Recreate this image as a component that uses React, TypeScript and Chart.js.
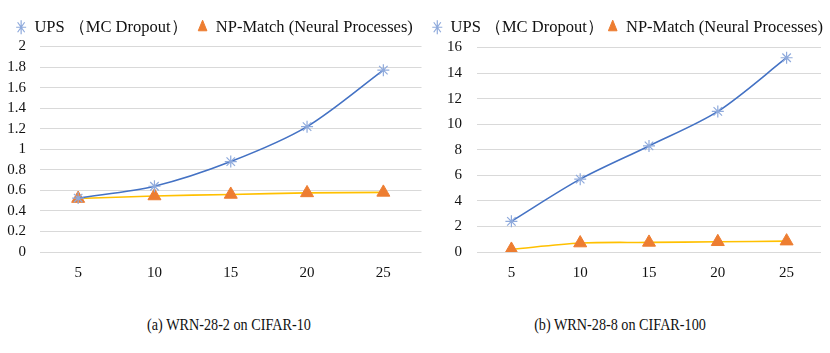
import React, { useEffect, useRef } from "react";
import { Chart, registerables } from "chart.js";

Chart.register(...registerables);

const categories = ["5", "10", "15", "20", "25"];
const upsCifar10 = [0.525, 0.64, 0.88, 1.22, 1.77];
const npCifar10 = [0.52, 0.545, 0.56, 0.575, 0.58];
const upsCifar100 = [2.4, 5.7, 8.3, 11.0, 15.2];
const npCifar100 = [0.2, 0.7, 0.75, 0.8, 0.85];
const seriesNames = ["UPS （MC Dropout）", "NP-Match (Neural Processes)"];
const captions = ["(a) WRN-28-2 on CIFAR-10", "(b) WRN-28-8 on CIFAR-100"];

const FONT = '"Liberation Serif", "Times New Roman", serif';
Chart.defaults.font.family = FONT;

type Cfg = {
  ups: number[];
  np: number[];
  max: number;
  step: number;
  yWidth: number;
  tickPad: number;
  padRight: number;
  padTop: number;
  legendPad: number;
  legendExtra: number;
  legendShift: number;
  align: "start" | "center" | "end";
};

function LineChart({ cfg, width, height }: { cfg: Cfg; width: number; height: number }) {
  const ref = useRef<HTMLCanvasElement | null>(null);
  useEffect(() => {
    if (!ref.current) return;
    const legendSpacer = {
      id: "legendSpacer",
      beforeInit(chart: any) {
        const lg = chart.legend;
        if (!lg) return;
        const orig = lg.fit;
        lg.fit = function () {
          orig.call(this);
          this.height += cfg.legendExtra;
        };
      },
      afterLayout(chart: any) {
        const lg = chart.legend;
        if (!lg) return;
        lg.left += cfg.legendShift;
        lg.right += cfg.legendShift;
      },
    };
    const chart = new Chart(ref.current, {
      type: "line",
      data: {
        labels: categories,
        datasets: [
          {
            label: seriesNames[0],
            data: cfg.ups,
            borderColor: "#4472C4",
            backgroundColor: "#8FAADC",
            pointBorderColor: "#8FAADC",
            pointStyle: "star",
            pointRadius: 6,
            pointBorderWidth: 1.2,
            borderWidth: 1.6,
            tension: 0.3,
          },
          {
            label: seriesNames[1],
            data: cfg.np,
            borderColor: "#FFC000",
            backgroundColor: "#ED7D31",
            pointBorderColor: "#ED7D31",
            pointStyle: "triangle",
            pointRadius: 7.5,
            pointBorderWidth: 1,
            borderWidth: 1.6,
            tension: 0.3,
          },
        ],
      },
      plugins: [legendSpacer],
      options: {
        animation: false,
        responsive: false,
        layout: { padding: { top: cfg.padTop, right: cfg.padRight, left: 0, bottom: 0 } },
        plugins: {
          legend: {
            position: "top",
            align: cfg.align,
            labels: {
              usePointStyle: true,
              boxHeight: 10,
              pointStyleWidth: 10,
              padding: cfg.legendPad,
              color: "#111",
              font: { family: FONT, size: 16.5 },
            },
          },
          tooltip: { enabled: false },
        },
        scales: {
          x: {
            offset: true,
            grid: { display: false },
            border: { display: false },
            ticks: { color: "#111", font: { family: FONT, size: 15 }, padding: 4 },
            afterFit: (s: any) => {
              s.height = 38;
            },
          },
          y: {
            min: 0,
            max: cfg.max,
            ticks: {
              stepSize: cfg.step,
              autoSkip: false,
              color: "#111",
              font: { family: FONT, size: 15 },
              padding: cfg.tickPad,
              callback: (v: any) => String(Math.round(Number(v) * 10) / 10),
            },
            grid: { color: "#D9D9D9", drawTicks: false, lineWidth: 1 },
            border: { display: false },
            afterFit: (s: any) => {
              s.width = cfg.yWidth;
            },
          },
        },
      },
    });
    return () => chart.destroy();
  }, []);
  return <canvas ref={ref} width={width} height={height} style={{ width, height, display: "block" }} />;
}

const captionStyle: React.CSSProperties = {
  position: "absolute",
  top: 314,
  width: 240,
  textAlign: "center",
  fontFamily: FONT,
  fontSize: 16.5,
  color: "#111",
  lineHeight: "22px",
  transform: "scaleX(0.86)",
  whiteSpace: "nowrap",
};

export default function App() {
  return (
    <div style={{ position: "fixed", left: 0, top: 0, width: 830, height: 353, background: "#fff", overflow: "hidden" }}>
      <div style={{ position: "absolute", left: 0, top: 0 }}>
        <LineChart
          width={430}
          height={290}
          cfg={{
            ups: upsCifar10, np: npCifar10, max: 2, step: 0.2, yWidth: 40, tickPad: 14,
            padRight: 5, padTop: 9, legendPad: 10, legendExtra: 1, legendShift: 2, align: "center",
          }}
        />
      </div>
      <div style={{ position: "absolute", left: 395, top: 0 }}>
        <LineChart
          width={435}
          height={290}
          cfg={{
            ups: upsCifar100, np: npCifar100, max: 16, step: 2, yWidth: 82, tickPad: 15,
            padRight: 9, padTop: 15, legendPad: 4, legendExtra: 2, legendShift: 6, align: "end",
          }}
        />
      </div>
      <div style={{ ...captionStyle, left: 229 - 120 }}>{captions[0]}</div>
      <div style={{ ...captionStyle, left: 620 - 120 }}>{captions[1]}</div>
    </div>
  );
}
